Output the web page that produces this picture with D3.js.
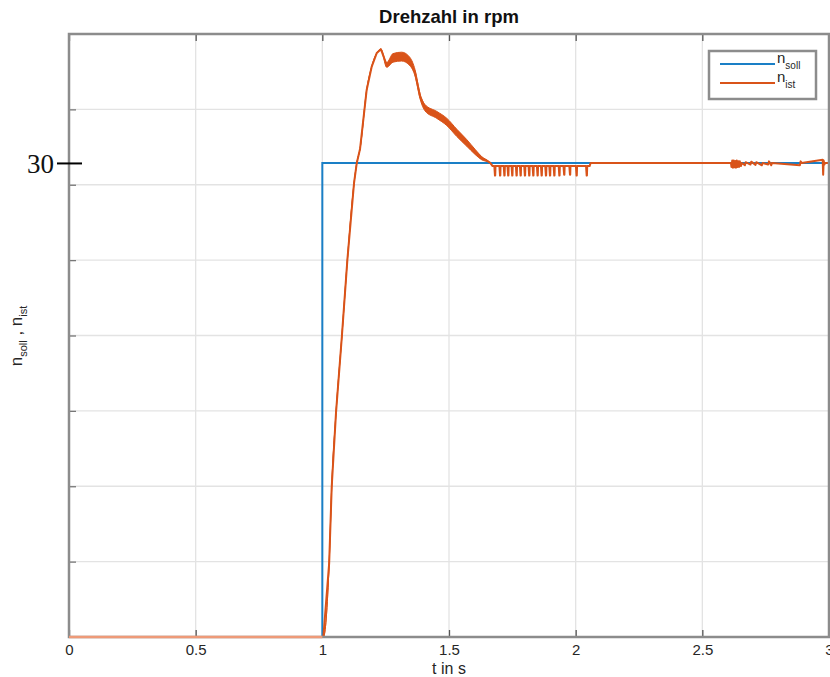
<!DOCTYPE html>
<html><head><meta charset="utf-8">
<script src="https://cdn.jsdelivr.net/npm/d3@7"></script>
<style>body{margin:0;background:#fff}svg{display:block}</style>
</head><body>
<script>
// ---- data ----
const xTicks = [0, 0.5, 1, 1.5, 2, 2.5, 3];
const xTickLabels = ["0", "0.5", "1", "1.5", "2", "2.5", "3"];
const yGrid = [4.77, 9.54, 14.31, 19.08, 23.85, 28.62, 33.39];
const yLabelTicks = [30];
const yMax = 38.16;

const sollT = [0, 1, 1, 3];
const sollV = [0, 0, 30, 30];

const istT = [0, 1.004, 1.027, 1.037, 1.054, 1.077, 1.099, 1.125, 1.136, 1.149, 1.175, 1.195, 1.215, 1.231, 1.254, 1.279, 1.313, 1.346, 1.366, 1.386, 1.405, 1.452, 1.491, 1.531, 1.570, 1.603, 1.629, 1.662, 1.672];
const istV = [0, 0, 4.68, 9.49, 14.2, 19.0, 23.9, 28.7, 30.0, 30.9, 34.62, 36.1, 36.96, 37.2, 36.2, 36.65, 36.73, 36.41, 35.7, 34.2, 33.5, 33.04, 32.6, 31.9, 31.27, 30.7, 30.3, 30.02, 29.8];
const istBand = [0, 0, 0, 0, 0, 0, 0, 0, 0, 0, 0, 0, 0, 0, 0.15, 0.27, 0.28, 0.26, 0.2, 0.16, 0.2, 0.22, 0.23, 0.23, 0.21, 0.16, 0.1, 0, 0];

const settleBase = 29.8;
const settleEnd = 2.055;
const spikeT = [1.682, 1.702, 1.719, 1.734, 1.750, 1.767, 1.783, 1.800, 1.817, 1.833, 1.850, 1.866, 1.883, 1.899, 1.916, 1.936, 1.955, 1.978, 2.004, 2.044];
const spikeV = [29.2, 29.2, 29.2, 29.2, 29.2, 29.2, 29.2, 29.2, 29.2, 29.2, 29.2, 29.2, 29.2, 29.2, 29.2, 29.2, 29.25, 29.25, 29.2, 29.2];

const noiseT = [2.615, 2.618, 2.621, 2.624, 2.627, 2.630, 2.633, 2.636, 2.639, 2.642, 2.645, 2.648, 2.652, 2.656, 2.668, 2.671, 2.69, 2.693, 2.71, 2.713, 2.735, 2.738, 2.76, 2.763, 2.772, 2.775, 2.885, 2.888, 2.892, 2.975, 2.977, 2.979, 2.982];
const noiseV = [29.75, 30.15, 29.7, 30.15, 29.72, 30.12, 29.7, 30.15, 29.75, 30.1, 29.75, 30.1, 29.8, 30.0, 29.85, 30.05, 29.9, 30.08, 29.88, 30.05, 29.85, 30.0, 29.9, 30.1, 29.85, 30.0, 29.85, 30.1, 30.0, 30.2, 29.25, 30.15, 29.9];

// ---- layout ----
const W = 830, H = 677;
const L = 69, R = 829, T = 34, B = 637;
const x = d3.scaleLinear([0, 3], [L, R]);
const y = d3.scaleLinear([0, yMax], [B, T]);
const blue = "#1a7fc6", red = "#D95319", axisCol = "#8c8c8c", txt = "#262626";

const svg = d3.select("body").append("svg").attr("width", W).attr("height", H)
  .style("font-family", "'Liberation Sans', Arial, sans-serif");

svg.append("defs").append("clipPath").attr("id", "clip")
  .append("rect").attr("x", L).attr("y", T).attr("width", R - L).attr("height", B - T + 1);

// grid
svg.append("g").selectAll("line").data(xTicks.slice(1, -1)).join("line")
  .attr("x1", d => x(d)).attr("x2", d => x(d)).attr("y1", T).attr("y2", B)
  .attr("stroke", "#e3e3e3").attr("stroke-width", 1.3);
svg.append("g").selectAll("line").data(yGrid).join("line")
  .attr("y1", d => y(d)).attr("y2", d => y(d)).attr("x1", L).attr("x2", R)
  .attr("stroke", "#e3e3e3").attr("stroke-width", 1.3);

// bottom x axis with labels
const gx = svg.append("g").attr("transform", `translate(0,${B})`)
  .call(d3.axisBottom(x).tickValues(xTicks).tickFormat((d, i) => xTickLabels[i]).tickSize(-7).tickPadding(7).tickSizeOuter(0));
gx.select(".domain").remove();
gx.selectAll(".tick line").attr("stroke", "#555").attr("stroke-width", 1.3);
gx.selectAll(".tick text").attr("fill", txt).style("font-size", "15px")
  .style("font-family", "'Liberation Sans', Arial, sans-serif");

// top ticks
const gt = svg.append("g").attr("transform", `translate(0,${T})`)
  .call(d3.axisTop(x).tickValues(xTicks).tickFormat("").tickSize(-7).tickSizeOuter(0));
gt.select(".domain").remove();
gt.selectAll(".tick line").attr("stroke", "#555").attr("stroke-width", 1.3);

// left small ticks at grid
const gl = svg.append("g").attr("transform", `translate(${L},0)`)
  .call(d3.axisLeft(y).tickValues(yGrid).tickFormat("").tickSize(-7).tickSizeOuter(0));
gl.select(".domain").remove();
gl.selectAll(".tick line").attr("stroke", "#777").attr("stroke-width", 1.3);

// lines
const plot = svg.append("g").attr("clip-path", "url(#clip)");
const sollData = sollT.map((t, i) => [t, sollV[i]]);
const line = d3.line().x(d => x(d[0])).y(d => y(d[1]));
plot.append("path").attr("d", line(sollData)).attr("fill", "none")
  .attr("stroke", blue).attr("stroke-width", 2);

// ist band (oscillation envelope)
const bandData = istT.map((t, i) => ({ t, v: istV[i], b: istBand[i] }));
plot.append("path").datum(bandData)
  .attr("d", d3.area().curve(d3.curveMonotoneX).x(d => x(d.t)).y0(d => y(d.v - d.b)).y1(d => y(d.v + d.b)))
  .attr("fill", red).attr("stroke", red).attr("stroke-width", 1);

// full ist path: main, settling with spikes, then noise near the end
const istPts = istT.map((t, i) => [t, istV[i]]);
spikeT.forEach((s, i) => {
  istPts.push([s - 0.003, settleBase], [s - 0.0005, spikeV[i]], [s + 0.0005, spikeV[i]], [s + 0.0015, settleBase]);
});
istPts.push([settleEnd, settleBase], [settleEnd + 0.004, 30]);
istPts.push([noiseT[0] - 0.002, 30]);
noiseT.forEach((t, i) => istPts.push([t, noiseV[i]]));
istPts.push([noiseT[noiseT.length - 1] + 0.002, 30], [3, 30]);
istPts.sort((a, b) => a[0] - b[0]);
plot.append("path").attr("d", line(istPts)).attr("fill", "none")
  .attr("stroke", red).attr("stroke-width", 2).attr("stroke-linejoin", "round");

// frame
svg.append("rect").attr("x", L).attr("y", T).attr("width", R - L).attr("height", B - T)
  .attr("fill", "none").attr("stroke", axisCol).attr("stroke-width", 2.5);
// red line over bottom axis for t<1 (as in reference)
svg.append("path").attr("d", line(sollData.slice(0, 2))).attr("stroke", "#ee9a78").attr("stroke-width", 2.5).attr("fill", "none");

// y label tick "30"
const gy = svg.append("g").attr("transform", `translate(${L},0)`)
  .call(d3.axisLeft(y).tickValues(yLabelTicks).tickSize(12).tickPadding(3).tickSizeOuter(0));
gy.select(".domain").remove();
gy.selectAll(".tick line").attr("x1", 13).attr("x2", -12).attr("stroke", "#000").attr("stroke-width", 2);
gy.selectAll(".tick text").attr("fill", "#111").style("font-size", "27px")
  .style("font-family", "'Liberation Serif', 'Times New Roman', serif").attr("x", -15).attr("dy", "0.34em");

// title
svg.append("text").attr("x", (L + R) / 2).attr("y", 23).attr("text-anchor", "middle")
  .attr("fill", "#111").style("font-size", "18.5px").style("font-weight", "bold").text("Drehzahl in rpm");

// x label
svg.append("text").attr("x", (L + R) / 2).attr("y", 674).attr("text-anchor", "middle")
  .attr("fill", txt).style("font-size", "16px").text("t in s");

// y label
const yl = svg.append("text").attr("transform", "translate(22,336) rotate(-90)")
  .attr("text-anchor", "middle").attr("fill", txt).style("font-size", "17px");
yl.append("tspan").text("n");
yl.append("tspan").attr("dy", 5).style("font-size", "11px").text("soll");
yl.append("tspan").attr("dy", -5).text(" , n");
yl.append("tspan").attr("dy", 5).style("font-size", "11px").text("ist");

// legend
const lg = svg.append("g");
lg.append("rect").attr("x", 709).attr("y", 51).attr("width", 107).attr("height", 48)
  .attr("fill", "#fff").attr("stroke", axisCol).attr("stroke-width", 2.5);
const legendItems = [{ name: "soll", color: blue, yy: 64 }, { name: "ist", color: red, yy: 83 }];
legendItems.forEach(d => {
  lg.append("line").attr("x1", 720).attr("x2", 775).attr("y1", d.yy).attr("y2", d.yy)
    .attr("stroke", d.color).attr("stroke-width", 2);
  const t = lg.append("text").attr("x", 777).attr("y", d.yy - 1).attr("fill", txt).style("font-size", "15px");
  t.append("tspan").text("n");
  t.append("tspan").attr("dy", 6).style("font-size", "10px").text(d.name);
});
</script>
</body></html>
